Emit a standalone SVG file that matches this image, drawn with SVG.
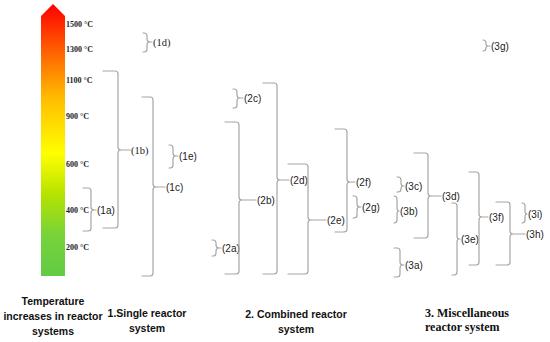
<svg xmlns="http://www.w3.org/2000/svg" width="550" height="342" viewBox="0 0 550 342">
<style>
.br{fill:none;stroke:#a6a6a6;stroke-width:1.2;stroke-linecap:round;stroke-linejoin:round}
.lb{font-family:"Liberation Sans",Arial,sans-serif;font-size:10px;fill:#222}
.ls{font-family:"Liberation Serif","Times New Roman",serif;font-size:10.5px;fill:#222}
.tp{font-family:"Liberation Serif","Times New Roman",serif;font-size:8px;font-weight:bold;fill:#222}
.cap{font-family:"Liberation Sans",Arial,sans-serif;font-size:10.5px;font-weight:bold;fill:#111;text-anchor:middle}
.caps{font-family:"Liberation Serif","Times New Roman",serif;font-size:12px;font-weight:bold;fill:#111}
</style>
<defs>
<linearGradient id="temp" x1="0" y1="4" x2="0" y2="276" gradientUnits="userSpaceOnUse">
<stop offset="0" stop-color="#ff0000"/>
<stop offset="0.22" stop-color="#ff7a00"/>
<stop offset="0.35" stop-color="#ffbe00"/>
<stop offset="0.55" stop-color="#ffff00"/>
<stop offset="0.7" stop-color="#b5e300"/>
<stop offset="0.85" stop-color="#78d23a"/>
<stop offset="1" stop-color="#62cb45"/>
</linearGradient>
</defs>
<rect width="550" height="342" fill="#fff"/>
<g id="scale">
<polygon points="41,16 53,4 65,16 65,276 41,276" fill="url(#temp)"/>
<text class="tp" x="66" y="27">1500 °C</text>
<text class="tp" x="66" y="52">1300 °C</text>
<text class="tp" x="66" y="83">1100 °C</text>
<text class="tp" x="66" y="119">900 °C</text>
<text class="tp" x="66" y="167">600 °C</text>
<text class="tp" x="66" y="213">400 °C</text>
<text class="tp" x="66" y="250">200 °C</text>
</g>
<g id="n1a"><path class="br" d="M83 188H88Q91 188 91 191V207Q91 210 94 210H96M94 210Q91 210 91 213V228Q91 231 88 231H83"/><text class="lb" x="97" y="213.5">(1a)</text></g>
<g id="n1b"><path class="br" d="M103 71H115Q118 71 118 74V147Q118 150 121 150H130M121 150Q118 150 118 153V225Q118 228 115 228H103"/><text class="ls" x="131" y="153.5">(1b)</text></g>
<g id="n1c"><path class="br" d="M142 97H150Q153 97 153 100V184Q153 187 156 187H165M156 187Q153 187 153 190V273Q153 276 150 276H142"/><text class="lb" x="166" y="190.5">(1c)</text></g>
<g id="n1d"><path class="br" d="M143 33H144Q147 33 147 36V39Q147 42 150 42H152M150 42Q147 42 147 45V49Q147 52 144 52H143"/><text class="ls" x="153" y="45.5">(1d)</text></g>
<g id="n1e"><path class="br" d="M169 145H170Q173 145 173 148V153Q173 156 176 156H178M176 156Q173 156 173 159V165Q173 168 170 168H169"/><text class="lb" x="179" y="159.5">(1e)</text></g>
<g id="n2a"><path class="br" d="M212 240H213Q216 240 216 243V245Q216 248 219 248H221M219 248Q216 248 216 251V253Q216 256 213 256H212"/><text class="lb" x="222" y="251.5">(2a)</text></g>
<g id="n2b"><path class="br" d="M225 122H236Q239 122 239 125V197Q239 200 242 200H256M242 200Q239 200 239 203V271Q239 274 236 274H225"/><text class="lb" x="257" y="203.5">(2b)</text></g>
<g id="n2c"><path class="br" d="M233 89H234Q237 89 237 92V95Q237 98 240 98H243M240 98Q237 98 237 101V105Q237 108 234 108H233"/><text class="lb" x="244" y="101.5">(2c)</text></g>
<g id="n2d"><path class="br" d="M263 83H274Q277 83 277 86V177Q277 180 280 180H289M280 180Q277 180 277 183V271Q277 274 274 274H263"/><text class="lb" x="290" y="183.5">(2d)</text></g>
<g id="n2e"><path class="br" d="M288 164H305Q308 164 308 167V217Q308 220 311 220H326M311 220Q308 220 308 223V271Q308 274 305 274H288"/><text class="lb" x="327" y="223.5">(2e)</text></g>
<g id="n2f"><path class="br" d="M335 129H344Q347 129 347 132V179Q347 182 350 182H355M350 182Q347 182 347 185V229Q347 232 344 232H335"/><text class="lb" x="356" y="185.5">(2f)</text></g>
<g id="n2g"><path class="br" d="M353 196H354Q357 196 357 199V204Q357 207 360 207H361M360 207Q357 207 357 210V215Q357 218 354 218H353"/><text class="lb" x="362" y="210.5">(2g)</text></g>
<g id="n3a"><path class="br" d="M394 248H397Q400 248 400 251V262Q400 265 403 265H404M403 265Q400 265 400 268V274Q400 277 397 277H394"/><text class="lb" x="405" y="268.5">(3a)</text></g>
<g id="n3b"><path class="br" d="M394 196Q397 196 397 199V208Q397 211 399 211M399 211Q397 211 397 214V220Q397 223 394 223"/><text class="lb" x="400" y="214.5">(3b)</text></g>
<g id="n3c"><path class="br" d="M397 177H398Q401 177 401 180V183Q401 186 403 186H404M403 186Q401 186 401 189V189Q401 192 398 192H397"/><text class="lb" x="405" y="189.5">(3c)</text></g>
<g id="n3d"><path class="br" d="M414 153H425Q428 153 428 156V193Q428 196 431 196H441M431 196Q428 196 428 199V235Q428 238 425 238H414"/><text class="lb" x="442" y="199.5">(3d)</text></g>
<g id="n3e"><path class="br" d="M452 203H454Q457 203 457 206V236Q457 239 459 239H460M459 239Q457 239 457 242V272Q457 275 454 275H452"/><text class="lb" x="461" y="242.5">(3e)</text></g>
<g id="n3f"><path class="br" d="M469 172H476Q479 172 479 175V214Q479 217 482 217H488M482 217Q479 217 479 220V262Q479 265 476 265H469"/><text class="lb" x="489" y="220.5">(3f)</text></g>
<g id="n3g"><path class="br" d="M483 40Q486 40 486 43V44Q486 46 488 46H490M488 46Q486 46 486 48V48Q486 51 483 51"/><text class="lb" x="491" y="49.5">(3g)</text></g>
<g id="n3h"><path class="br" d="M496 202H507Q510 202 510 205V231Q510 234 513 234H525M513 234Q510 234 510 237V262Q510 265 507 265H496"/><text class="lb" x="526" y="237.5">(3h)</text></g>
<g id="n3i"><path class="br" d="M522 203Q525 203 525 206V211Q525 214 527 214M527 214Q525 214 525 217V220Q525 223 522 223"/><text class="lb" x="528" y="217.5">(3i)</text></g>
<g id="connectors"></g>
<g id="captions">
<text class="cap" x="53" y="305">Temperature</text>
<text class="cap" x="53" y="320">increases in reactor</text>
<text class="cap" x="53" y="335">systems</text>
<text class="cap" x="147" y="317">1.Single reactor</text>
<text class="cap" x="147" y="332">system</text>
<text class="cap" x="296" y="318">2. Combined reactor</text>
<text class="cap" x="296" y="333">system</text>
<text class="caps" x="425" y="317">3. Miscellaneous</text>
<text class="caps" x="425" y="331">reactor system</text>
</g>
</svg>
